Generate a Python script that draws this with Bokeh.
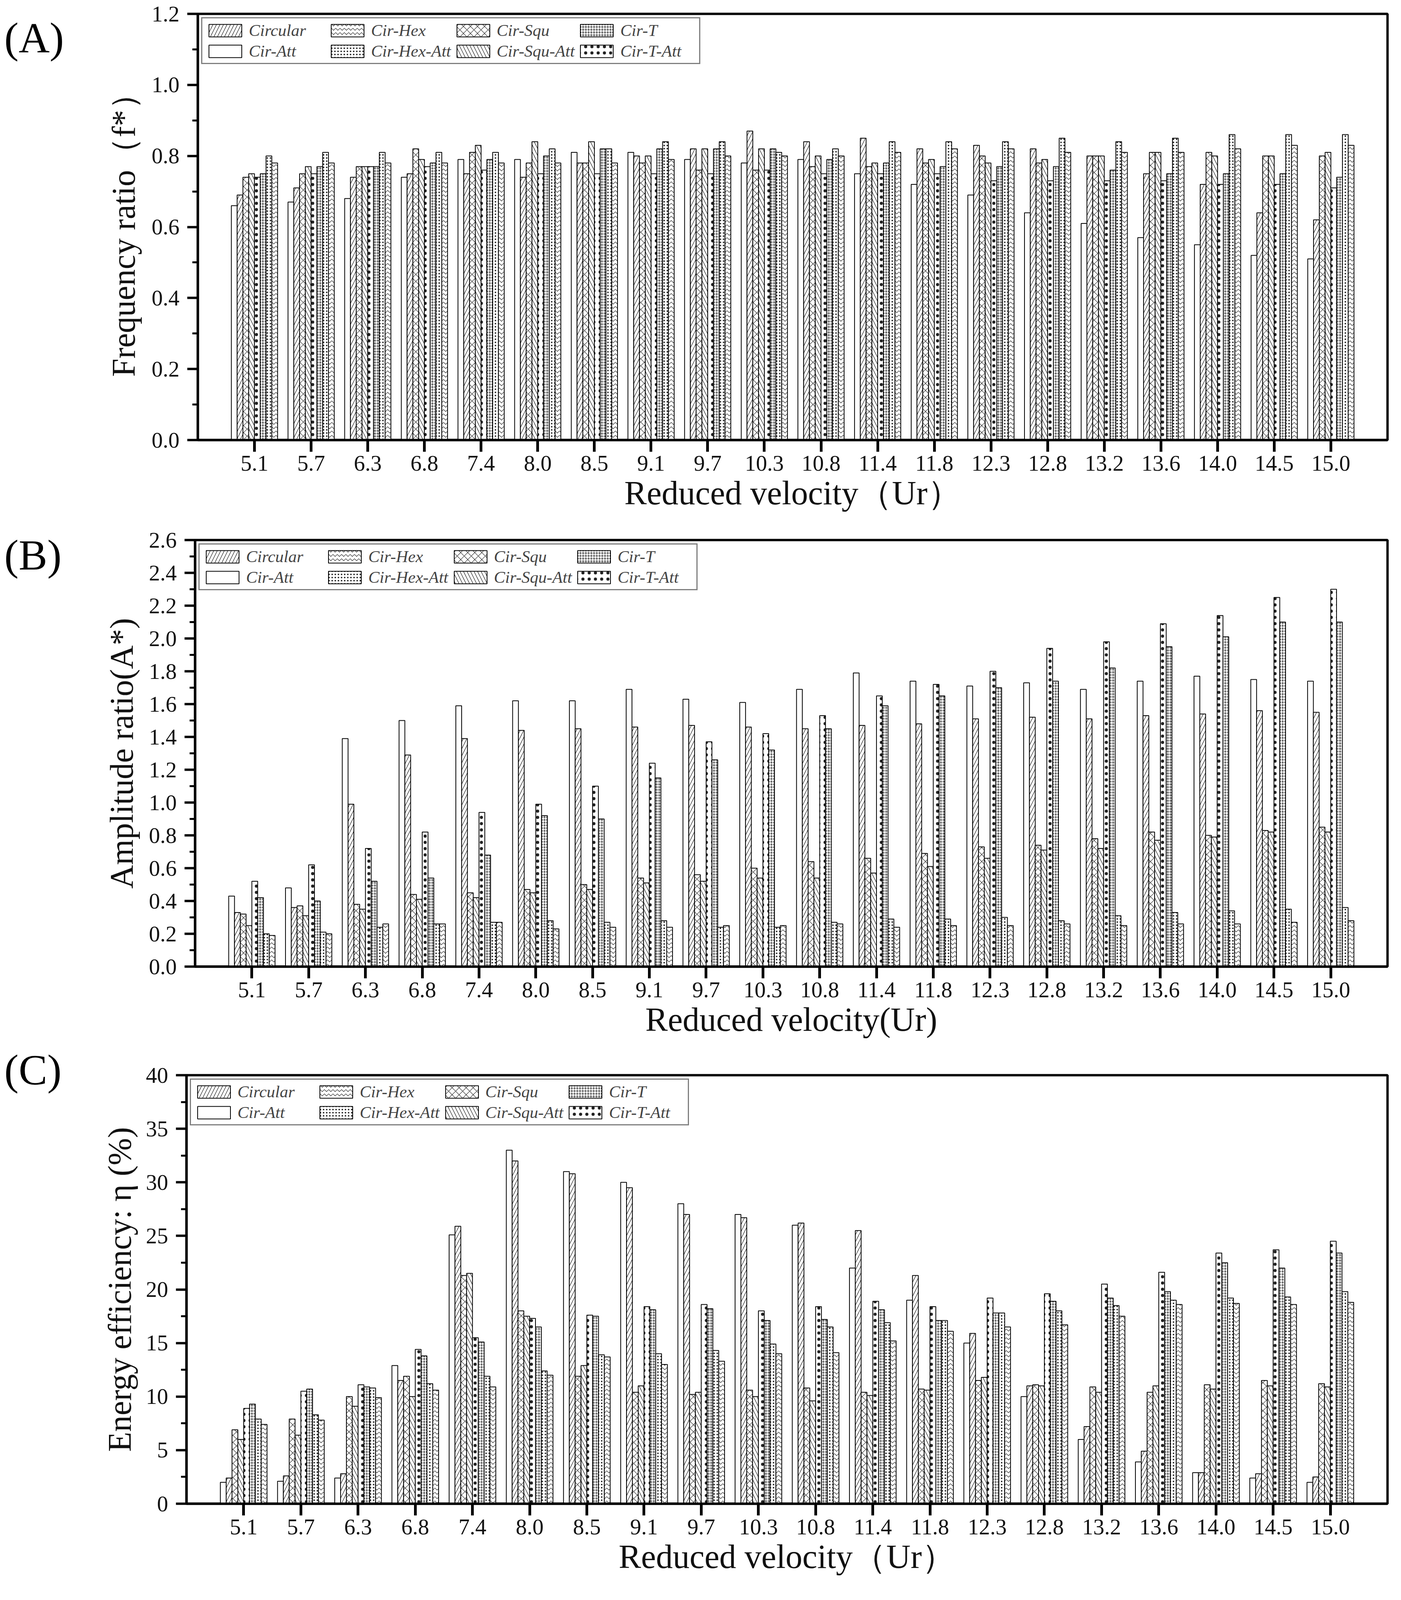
from bokeh.plotting import figure
from bokeh.models import (Range1d, FixedTicker, Legend, LegendItem, Div,
                          ColumnDataSource, PrintfTickFormatter)
from bokeh.layouts import column, row
from bokeh.embed import file_html
from bokeh.resources import INLINE

# ---------------- data ----------------
velocity_labels = ["5.1", "5.7", "6.3", "6.8", "7.4", "8.0", "8.5", "9.1", "9.7", "10.3",
                   "10.8", "11.4", "11.8", "12.3", "12.8", "13.2", "13.6", "14.0", "14.5", "15.0"]

# bar order inside each group
series_order = ["Cir-Att", "Circular", "Cir-Squ", "Cir-Squ-Att", "Cir-T-Att", "Cir-T", "Cir-Hex-Att", "Cir-Hex"]

# (A) frequency ratio f*
freq_cir_att     = [0.66, 0.67, 0.68, 0.74, 0.79, 0.79, 0.81, 0.81, 0.79, 0.78, 0.79, 0.75, 0.72, 0.69, 0.64, 0.61, 0.57, 0.55, 0.52, 0.51]
freq_circular    = [0.69, 0.71, 0.74, 0.75, 0.75, 0.74, 0.78, 0.80, 0.82, 0.87, 0.84, 0.85, 0.82, 0.83, 0.82, 0.80, 0.75, 0.72, 0.64, 0.62]
freq_cir_squ     = [0.74, 0.75, 0.77, 0.82, 0.81, 0.78, 0.78, 0.78, 0.76, 0.76, 0.77, 0.77, 0.78, 0.80, 0.78, 0.80, 0.81, 0.81, 0.80, 0.80]
freq_cir_squ_att = [0.75, 0.77, 0.77, 0.79, 0.83, 0.84, 0.84, 0.80, 0.82, 0.82, 0.80, 0.78, 0.79, 0.78, 0.79, 0.80, 0.81, 0.80, 0.80, 0.81]
freq_cir_t_att   = [0.74, 0.75, 0.77, 0.77, 0.76, 0.75, 0.75, 0.75, 0.75, 0.76, 0.75, 0.75, 0.75, 0.73, 0.73, 0.73, 0.73, 0.72, 0.72, 0.71]
freq_cir_t       = [0.75, 0.77, 0.77, 0.78, 0.79, 0.80, 0.82, 0.82, 0.82, 0.82, 0.79, 0.78, 0.77, 0.77, 0.77, 0.76, 0.75, 0.75, 0.75, 0.74]
freq_cir_hex_att = [0.80, 0.81, 0.81, 0.81, 0.81, 0.82, 0.82, 0.84, 0.84, 0.81, 0.82, 0.84, 0.84, 0.84, 0.85, 0.84, 0.85, 0.86, 0.86, 0.86]
freq_cir_hex     = [0.78, 0.78, 0.78, 0.78, 0.78, 0.78, 0.78, 0.79, 0.80, 0.80, 0.80, 0.81, 0.82, 0.82, 0.81, 0.81, 0.81, 0.82, 0.83, 0.83]

# (B) amplitude ratio A*
amp_cir_att     = [0.43, 0.48, 1.39, 1.50, 1.59, 1.62, 1.62, 1.69, 1.63, 1.61, 1.69, 1.79, 1.74, 1.71, 1.73, 1.69, 1.74, 1.77, 1.75, 1.74]
amp_circular    = [0.33, 0.36, 0.99, 1.29, 1.39, 1.44, 1.45, 1.46, 1.47, 1.46, 1.45, 1.47, 1.48, 1.51, 1.52, 1.51, 1.53, 1.54, 1.56, 1.55]
amp_cir_squ     = [0.32, 0.37, 0.38, 0.44, 0.45, 0.47, 0.50, 0.54, 0.56, 0.60, 0.64, 0.66, 0.69, 0.73, 0.74, 0.78, 0.82, 0.80, 0.83, 0.85]
amp_cir_squ_att = [0.25, 0.31, 0.35, 0.41, 0.42, 0.45, 0.47, 0.51, 0.52, 0.54, 0.54, 0.57, 0.61, 0.66, 0.71, 0.72, 0.77, 0.79, 0.82, 0.82]
amp_cir_t_att   = [0.52, 0.62, 0.72, 0.82, 0.94, 0.99, 1.10, 1.24, 1.37, 1.42, 1.53, 1.65, 1.72, 1.80, 1.94, 1.98, 2.09, 2.14, 2.25, 2.30]
amp_cir_t       = [0.42, 0.40, 0.52, 0.54, 0.68, 0.92, 0.90, 1.15, 1.26, 1.32, 1.45, 1.59, 1.65, 1.70, 1.74, 1.82, 1.95, 2.01, 2.10, 2.10]
amp_cir_hex_att = [0.20, 0.21, 0.24, 0.26, 0.27, 0.28, 0.27, 0.28, 0.24, 0.24, 0.27, 0.29, 0.29, 0.30, 0.28, 0.31, 0.33, 0.34, 0.35, 0.36]
amp_cir_hex     = [0.19, 0.20, 0.26, 0.26, 0.27, 0.23, 0.24, 0.24, 0.25, 0.25, 0.26, 0.24, 0.25, 0.25, 0.26, 0.25, 0.26, 0.26, 0.27, 0.28]

# (C) energy efficiency eta (%)
eta_cir_att     = [2.0, 2.1, 2.4, 12.9, 25.1, 33.0, 31.0, 30.0, 28.0, 27.0, 26.0, 22.0, 19.0, 15.0, 10.0, 6.0, 3.9, 2.9, 2.4, 2.0]
eta_circular    = [2.4, 2.6, 2.8, 11.5, 25.9, 32.0, 30.8, 29.5, 27.0, 26.7, 26.2, 25.5, 21.3, 15.9, 11.0, 7.2, 4.9, 2.9, 2.8, 2.5]
eta_cir_squ     = [6.9, 7.9, 10.0, 11.9, 21.3, 18.0, 11.9, 10.4, 10.2, 10.6, 10.8, 10.4, 10.7, 11.5, 11.1, 10.9, 10.4, 11.1, 11.5, 11.2]
eta_cir_squ_att = [6.0, 6.4, 9.1, 10.0, 21.5, 17.5, 12.9, 11.0, 10.4, 10.0, 9.6, 10.1, 10.6, 11.8, 11.0, 10.4, 11.0, 10.7, 11.0, 10.9]
eta_cir_t_att   = [8.9, 10.5, 11.1, 14.4, 15.5, 17.3, 17.6, 18.4, 18.6, 18.0, 18.4, 18.9, 18.4, 19.2, 19.6, 20.5, 21.6, 23.4, 23.7, 24.5]
eta_cir_t       = [9.3, 10.7, 10.9, 13.8, 15.1, 16.5, 17.5, 18.1, 18.2, 17.1, 17.2, 18.1, 17.1, 17.8, 18.9, 19.2, 19.8, 22.5, 22.0, 23.4]
eta_cir_hex_att = [7.9, 8.3, 10.8, 11.2, 11.9, 12.4, 13.9, 14.0, 14.3, 14.9, 16.5, 16.9, 17.1, 17.8, 18.0, 18.5, 19.0, 19.2, 19.3, 19.8]
eta_cir_hex     = [7.4, 7.8, 9.9, 10.6, 10.9, 12.0, 13.7, 13.0, 13.3, 14.0, 14.1, 15.2, 16.1, 16.5, 16.7, 17.5, 18.6, 18.7, 18.6, 18.8]

panel_a = [freq_cir_att, freq_circular, freq_cir_squ, freq_cir_squ_att,
           freq_cir_t_att, freq_cir_t, freq_cir_hex_att, freq_cir_hex]
panel_b = [amp_cir_att, amp_circular, amp_cir_squ, amp_cir_squ_att,
           amp_cir_t_att, amp_cir_t, amp_cir_hex_att, amp_cir_hex]
panel_c = [eta_cir_att, eta_circular, eta_cir_squ, eta_cir_squ_att,
           eta_cir_t_att, eta_cir_t, eta_cir_hex_att, eta_cir_hex]

ticks_a = [0.0, 0.2, 0.4, 0.6, 0.8, 1.0, 1.2]
minor_a = [0.1, 0.3, 0.5, 0.7, 0.9, 1.1]
ticks_b = [0.0, 0.2, 0.4, 0.6, 0.8, 1.0, 1.2, 1.4, 1.6, 1.8, 2.0, 2.2, 2.4, 2.6]
minor_b = [0.1, 0.3, 0.5, 0.7, 0.9, 1.1, 1.3, 1.5, 1.7, 1.9, 2.1, 2.3, 2.5]
ticks_c = [0, 5, 10, 15, 20, 25, 30, 35, 40]
minor_c = [2.5, 7.5, 12.5, 17.5, 22.5, 27.5, 32.5, 37.5]

# ---------------- styles ----------------
HATCH = {
    "Cir-Att":     dict(hatch_pattern=" ", hatch_scale=12, hatch_weight=1),
    "Circular":    dict(hatch_pattern="/", hatch_scale=18, hatch_weight=1.3),
    "Cir-Squ":     dict(hatch_pattern="x", hatch_scale=18, hatch_weight=1.2),
    "Cir-Squ-Att": dict(hatch_pattern="\\", hatch_scale=18, hatch_weight=1.3),
    "Cir-T-Att":   dict(hatch_pattern=".", hatch_scale=16, hatch_weight=1.0),
    "Cir-T":       dict(hatch_pattern="o", hatch_scale=7, hatch_weight=1.3),
    "Cir-Hex-Att": dict(hatch_pattern=".", hatch_scale=8, hatch_weight=1.1),
    "Cir-Hex":     dict(hatch_pattern="v", hatch_scale=11, hatch_weight=1.2),
}

FONT = "Liberation Serif"
TXT = "#111111"
TOTAL_W = 3571
TAG_W = 200
NG = len(velocity_labels)
BAR_W = 0.102


def make_panel(values, ymax, yticks, yminor, yfmt, ylabel, xlabel, tag, tag_pad,
               height, b_top, b_bottom, b_left, ylab_standoff):
    p = figure(width=TOTAL_W - TAG_W, height=height, output_backend="svg",
               toolbar_location=None,
               x_range=Range1d(-1, NG), y_range=Range1d(0, ymax),
               min_border_left=b_left - TAG_W, min_border_right=19,
               min_border_top=b_top, min_border_bottom=b_bottom,
               background_fill_color="white", border_fill_color="white")
    p.grid.visible = False
    p.outline_line_color = "black"
    p.outline_line_width = 6

    renderers = {}
    for k, name in enumerate(series_order):
        xs = [i + (k - 3.5) * BAR_W for i in range(NG)]
        src = ColumnDataSource(dict(x=xs, top=values[k]))
        r = p.vbar(x="x", top="top", bottom=0, width=BAR_W, source=src,
                   fill_color="white", line_color="black", line_width=2,
                   hatch_color="#222222", **HATCH[name])
        renderers[name] = r

    # legend: vertical orientation fills columns -> (row1, row2) pair per column
    cols = [("Circular", "Cir-Att"), ("Cir-Hex", "Cir-Hex-Att"),
            ("Cir-Squ", "Cir-Squ-Att"), ("Cir-T", "Cir-T-Att")]
    items = []
    for a, b in cols:
        items.append(LegendItem(label=a, renderers=[renderers[a]]))
        items.append(LegendItem(label=b, renderers=[renderers[b]]))
    leg = Legend(items=items, ncols=4, orientation="vertical", location="top_left",
                 glyph_width=105, glyph_height=40, label_text_font=FONT,
                 label_text_font_style="italic", label_text_font_size="43px",
                 label_width=196, label_standoff=8, spacing=4, padding=6, margin=9,
                 border_line_color="black", border_line_width=3,
                 background_fill_color="white", background_fill_alpha=1.0)
    p.add_layout(leg)

    # x axis
    xa = p.xaxis[0]
    xa.ticker = FixedTicker(ticks=list(range(NG)))
    xa.major_label_overrides = {i: lab for i, lab in enumerate(velocity_labels)}
    xa.minor_tick_line_color = None
    xa.major_tick_out = 30
    xa.major_tick_in = 0
    xa.major_tick_line_width = 7
    xa.axis_line_width = 6
    xa.major_label_text_font = FONT
    xa.major_label_text_font_size = "57px"
    xa.major_label_text_color = TXT
    xa.major_label_standoff = 10
    xa.axis_label = xlabel
    xa.axis_label_text_font = FONT
    xa.axis_label_text_font_size = "86px"
    xa.axis_label_text_font_style = "normal"
    xa.axis_label_text_color = TXT
    xa.axis_label_standoff = 6

    # y axis
    ya = p.yaxis[0]
    ya.ticker = FixedTicker(ticks=yticks, minor_ticks=yminor)
    ya.formatter = PrintfTickFormatter(format=yfmt)
    ya.major_tick_out = 27
    ya.major_tick_in = 0
    ya.minor_tick_out = 14
    ya.minor_tick_in = 0
    ya.major_tick_line_width = 6
    ya.minor_tick_line_width = 5
    ya.axis_line_width = 6
    ya.major_label_text_font = FONT
    ya.major_label_text_font_size = "57px"
    ya.major_label_text_color = TXT
    ya.major_label_standoff = 20
    ya.axis_label = ylabel
    ya.axis_label_text_font = FONT
    ya.axis_label_text_font_size = "84px"
    ya.axis_label_text_font_style = "normal"
    ya.axis_label_text_color = TXT
    ya.axis_label_standoff = ylab_standoff

    tag_div = Div(text=tag, width=TAG_W, height=height,
                  styles={"font-family": FONT, "font-size": "110px", "color": "black",
                          "line-height": "1", "padding-top": "%dpx" % tag_pad,
                          "padding-left": "11px", "margin": "0"})
    return row(tag_div, p, spacing=0)


pa = make_panel(panel_a, 1.2, ticks_a, minor_a, "%.1f",
                "Frequency ratio（f*）", "Reduced velocity（Ur）", "(A)", 42,
                height=1332, b_top=35, b_bottom=206, b_left=506, ylab_standoff=22)
pb = make_panel(panel_b, 2.6, ticks_b, minor_b, "%.1f",
                "Amplitude ratio(A*)", "Reduced velocity(Ur)", "(B)", 34,
                height=1352, b_top=50, b_bottom=210, b_left=499, ylab_standoff=20)
pc = make_panel(panel_c, 40, ticks_c, minor_c, "%d",
                "Energy efficiency: η (%)", "Reduced velocity（Ur）", "(C)", 0,
                height=1386, b_top=68, b_bottom=221, b_left=477, ylab_standoff=18)

layout = column(pa, pb, pc, spacing=0)
open("out.html", "w").write(file_html(layout, INLINE))
